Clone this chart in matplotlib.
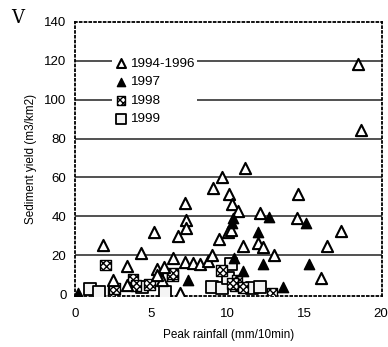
import matplotlib.pyplot as plt

plt.rcParams['font.family'] = ['Liberation Sans', 'DejaVu Sans']

# 1994-1996 (open triangles)
x_9496 = [1.85, 3.4, 4.3, 2.5, 3.4, 5.2, 5.4, 5.8, 5.7, 5.4, 6.4, 6.75, 7.2, 7.3, 7.3,
          7.2, 7.7, 8.2, 8.7, 9.0, 6.9, 9.05, 9.6, 9.4, 10.0, 10.1, 10.3, 10.7, 10.2,
          11.15, 11.0, 12.1, 12.0, 12.3, 13.0, 14.6, 14.55, 16.5, 17.4, 16.1, 18.55, 18.7]
y_9496 = [25, 14.5, 21, 7, 4.5, 32, 13, 14, 7, 10, 18.5, 30, 47, 38, 34,
          16.5, 16, 15.5, 17, 20, 0.5, 54.5, 60, 28.5, 32, 51.5, 46.5, 42.5, 33,
          65, 24.5, 41.5, 26.5, 24, 20, 51.5, 39, 24.5, 32.5, 8.5, 118.5, 84.5]

# 1997 (filled triangles)
x_97 = [0.2, 7.4, 10.35, 10.3, 12.7, 15.1, 12.0, 10.4, 12.3, 15.3, 11.0, 13.6]
y_97 = [0.5, 7, 39, 36.5, 39.5, 36.5, 32, 18.5, 15.5, 15.5, 12, 3.5]

# 1998 (hatched squares)
x_98 = [2.0, 2.5, 2.6, 3.8, 4.0, 4.9, 6.4, 6.4, 9.6, 10.5, 10.6, 10.3, 12.9, 11.0]
y_98 = [15, 1, 3, 7.5, 4.5, 5, 9.5, 10.5, 12, 4.5, 7, 5.5, 0.5, 3.5]

# 1999 (open squares)
x_99 = [1.0, 1.6, 4.4, 5.9, 9.0, 9.6, 10.0, 10.2, 11.6, 12.1]
y_99 = [2.5, 1, 3.5, 1, 3.5, 3, 8.5, 15.5, 3, 3.5]

fig = plt.figure(figsize=(3.88, 3.47), dpi=100)
ax = fig.add_axes([0.193, 0.147, 0.792, 0.79])

for y in range(20, 140, 20):
    ax.axhline(y, color='#222222', lw=1.1, zorder=1)

ax.scatter(x_99, y_99, marker='s', s=75, facecolor='#f4f4f4', edgecolor='black',
           linewidth=1.3, zorder=3, label='1999')
ax.scatter(x_98, y_98, marker='s', s=60, facecolor='white', edgecolor='black',
           hatch='xxxxx', linewidth=1.0, zorder=3, label='1998')
ax.scatter(x_9496, y_9496, marker='^', s=65, facecolor='white', edgecolor='black',
           linewidth=1.5, zorder=4, label='1994-1996')
ax.scatter(x_97, y_97, marker='^', s=55, facecolor='black', edgecolor='black',
           linewidth=1.0, zorder=4, label='1997')

ax.set_xlim(0, 20.1)
ax.set_ylim(-1, 140)
ax.set_xticks([0, 5, 10, 15, 20])
ax.set_yticks(range(0, 141, 20))
ax.tick_params(length=0, labelsize=9.5)
ax.tick_params(axis='y', pad=6)
ax.tick_params(axis='x', pad=9)
for s in ax.spines.values():
    s.set_linestyle(':')
    s.set_linewidth(1.3)

ax.set_xlabel('Peak rainfall (mm/10min)', fontsize=8.5, labelpad=6)
ax.set_ylabel('Sediment yield (m3/km2)', fontsize=8.5, labelpad=5)
fig.text(0.03, 0.935, 'V', fontsize=13, family='DejaVu Serif')

h, l = ax.get_legend_handles_labels()
order = [2, 3, 1, 0]
leg = ax.legend([h[i] for i in order], [l[i] for i in order], loc='upper left',
                bbox_to_anchor=(0.1, 0.905), fontsize=9.7, frameon=True,
                facecolor='white', edgecolor='none', framealpha=1, fancybox=False,
                handletextpad=0.2, handlelength=0.9, labelspacing=0.45,
                borderpad=0.2, markerscale=0.8)
leg.set_zorder(5)

fig.savefig('out.png', dpi=100)
